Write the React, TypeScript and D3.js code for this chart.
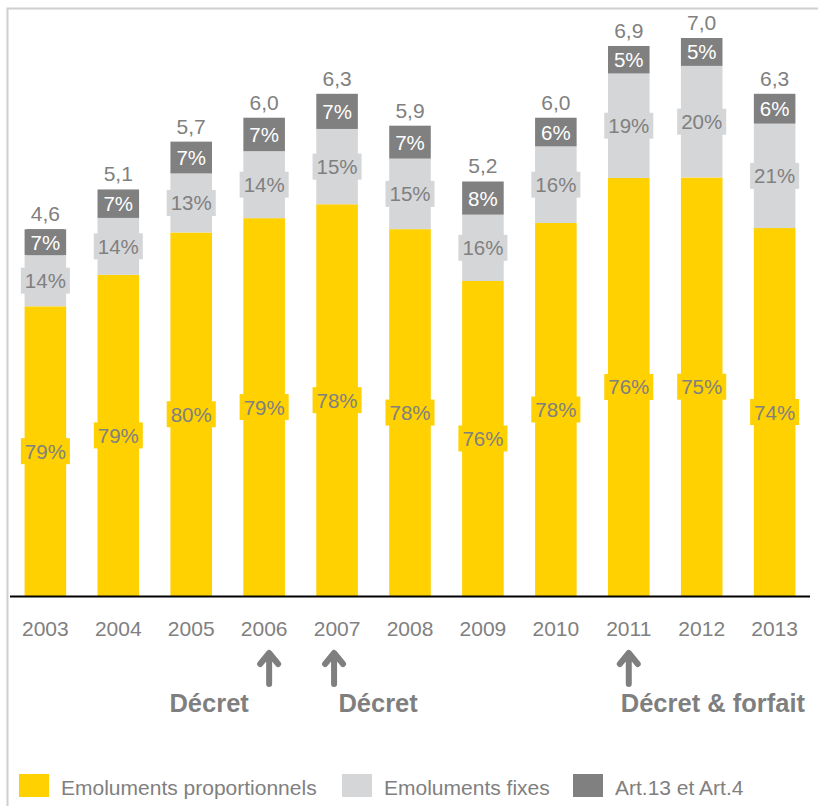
import * as d3 from 'd3';
import React, { useEffect, useRef } from 'react';

const years = ['2003', '2004', '2005', '2006', '2007', '2008', '2009', '2010', '2011', '2012', '2013'];
const totals = [4.6, 5.1, 5.7, 6.0, 6.3, 5.9, 5.2, 6.0, 6.9, 7.0, 6.3];
const proportionnels = [79, 79, 80, 79, 78, 78, 76, 78, 76, 75, 74];
const fixes = [14, 14, 13, 14, 15, 15, 16, 16, 19, 20, 21];
const art13 = [7, 7, 7, 7, 7, 7, 8, 6, 5, 5, 6];

const seriesNames = ['Emoluments proportionnels', 'Emoluments fixes', 'Art.13 et Art.4'];
const colors = ['#FFD100', '#D5D6D8', '#808080'];
const labelColors = ['#808080', '#808080', '#ffffff'];

const notes = [
  { year: '2006', text: 'Décret' },
  { year: '2007', text: 'Décret' },
  { year: '2011', text: 'Décret & forfait' },
];

const W = 818;
const H = 806;
const FONT = '"Liberation Sans", Arial, sans-serif';

const App: React.FC = () => {
  const ref = useRef<SVGSVGElement | null>(null);

  useEffect(() => {
    if (!ref.current) return;
    const svg = d3.select(ref.current);
    svg.selectAll('*').remove();

    // cadre gris
    svg
      .append('rect')
      .attr('x', 7.5)
      .attr('y', 8.5)
      .attr('width', W + 20)
      .attr('height', H + 20)
      .attr('fill', 'none')
      .attr('stroke', '#cfcfcf')
      .attr('stroke-width', 2);

    const x = d3.scaleBand().domain(years).range([10, 810]).paddingInner(0.43).paddingOuter(0.2);
    const y = d3.scaleLinear().domain([0, 7]).range([596, 38]);

    const data = years.map((yr, i) => {
      const parts = [proportionnels[i], fixes[i], art13[i]];
      const sum = d3.sum(parts);
      let acc = 0;
      const segs = parts.map((p, k) => {
        const v0 = acc;
        acc += (p / sum) * totals[i];
        return { k, pct: p, v0, v1: acc };
      });
      return { year: yr, total: totals[i], segs };
    });

    const g = svg.append('g');

    data.forEach((d) => {
      const bx = x(d.year) as number;
      const bw = x.bandwidth();
      const cx = bx + bw / 2;

      d.segs.forEach((s) => {
        g.append('rect')
          .attr('x', bx)
          .attr('y', y(s.v1))
          .attr('width', bw)
          .attr('height', y(s.v0) - y(s.v1))
          .attr('fill', colors[s.k]);
      });

      // étiquettes %
      d.segs.forEach((s) => {
        const cy = (y(s.v0) + y(s.v1)) / 2;
        const lg = g.append('g');
        const bg = lg.append('rect').attr('fill', colors[s.k]);
        const t = lg
          .append('text')
          .attr('x', cx)
          .attr('y', cy + 7.5)
          .attr('text-anchor', 'middle')
          .attr('font-family', FONT)
          .attr('font-size', 20.5)
          .attr('fill', labelColors[s.k])
          .text(`${s.pct}%`);
        const tw = (t.node() as SVGTextElement).getComputedTextLength();
        bg.attr('x', cx - tw / 2 - 4)
          .attr('y', cy - 13)
          .attr('width', tw + 8)
          .attr('height', 26);
      });

      g.append('text')
        .attr('x', cx)
        .attr('y', y(d.total) - 8)
        .attr('text-anchor', 'middle')
        .attr('font-family', FONT)
        .attr('font-size', 21)
        .attr('fill', '#808080')
        .text(d3.format('.1f')(d.total).replace('.', ','));

      g.append('text')
        .attr('x', cx)
        .attr('y', 636)
        .attr('text-anchor', 'middle')
        .attr('font-family', FONT)
        .attr('font-size', 21)
        .attr('fill', '#808080')
        .text(d.year);
    });

    // axe
    svg
      .append('line')
      .attr('x1', 10)
      .attr('x2', 810)
      .attr('y1', 596.5)
      .attr('y2', 596.5)
      .attr('stroke', '#000')
      .attr('stroke-width', 2);

    // flèches et notes
    const arrowX: Record<string, number> = { '2006': 5, '2007': -3, '2011': 0 };
    const textX: Record<string, number> = { '2006': -55, '2007': 41, '2011': -8 };
    notes.forEach((n) => {
      const cx = (x(n.year) as number) + x.bandwidth() / 2 + arrowX[n.year];
      svg
        .append('path')
        .attr('d', `M${cx},684 L${cx},654 M${cx - 9},664 L${cx},653 L${cx + 9},664`)
        .attr('fill', 'none')
        .attr('stroke', '#7f7f7f')
        .attr('stroke-width', 6)
        .attr('stroke-linecap', 'round')
        .attr('stroke-linejoin', 'round');
      const tx = (x(n.year) as number) + x.bandwidth() / 2 + textX[n.year];
      svg
        .append('text')
        .attr('x', tx)
        .attr('y', 712)
        .attr('text-anchor', n.year === '2011' ? 'start' : 'middle')
        .attr('font-family', FONT)
        .attr('font-size', 25.5)
        .attr('font-weight', 'bold')
        .attr('fill', '#7f7f7f')
        .text(n.text);
    });

    // légende
    const legendX = [19, 342, 573];
    seriesNames.forEach((name, i) => {
      svg
        .append('rect')
        .attr('x', legendX[i])
        .attr('y', 774)
        .attr('width', 30)
        .attr('height', 23)
        .attr('fill', colors[i]);
      svg
        .append('text')
        .attr('x', legendX[i] + 42)
        .attr('y', 795)
        .attr('font-family', FONT)
        .attr('font-size', 21)
        .attr('fill', '#808080')
        .text(name);
    });
  }, []);

  return (
    <svg
      ref={ref}
      width={W}
      height={H}
      style={{ position: 'absolute', left: 0, top: 0, background: '#fff' }}
    />
  );
};

export default App;
